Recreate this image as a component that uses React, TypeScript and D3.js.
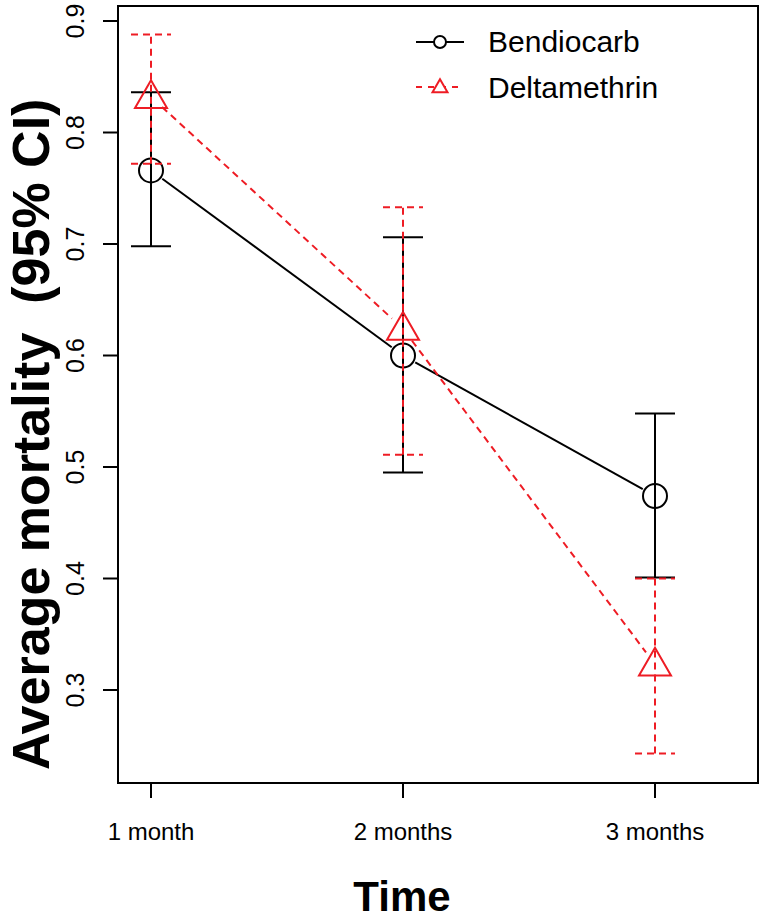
import React from 'react';
import * as d3 from 'd3';

// data
const times = [1, 2, 3];
const timeLabels = ['1 month', '2 months', '3 months'];
const yTicks = [0.3, 0.4, 0.5, 0.6, 0.7, 0.8, 0.9];

const bendioMean = [0.766, 0.6, 0.474];
const bendioLow = [0.698, 0.495, 0.401];
const bendioHigh = [0.836, 0.706, 0.548];

const deltaMean = [0.832, 0.624, 0.323];
const deltaLow = [0.772, 0.511, 0.243];
const deltaHigh = [0.888, 0.733, 0.4];

const W = 766;
const H = 921;
const box = { left: 118, right: 758, top: 6, bottom: 783 };
const font = 'Arial, "Liberation Sans", Helvetica, sans-serif';

const x = d3.scaleLinear().domain([1, 3]).range([151, 655]);
const y = d3.scaleLinear().domain([0.3, 0.9]).range([690, 21]);

// R's type="b": segments stop short of the points
const gapSegments = (xs: number[], ys: number[], gap: number) => {
  const segs: [number, number, number, number][] = [];
  for (let i = 0; i < xs.length - 1; i++) {
    const x0 = x(xs[i]), y0 = y(ys[i]), x1 = x(xs[i + 1]), y1 = y(ys[i + 1]);
    const len = Math.hypot(x1 - x0, y1 - y0);
    const ux = (x1 - x0) / len, uy = (y1 - y0) / len;
    segs.push([x0 + ux * gap, y0 + uy * gap, x1 - ux * gap, y1 - uy * gap]);
  }
  return segs;
};

const triangle = (cx: number, cy: number, s: number) => {
  const h = s * 0.866;
  return `M${cx},${cy - h * 0.6}L${cx + s / 2},${cy + h * 0.4}L${cx - s / 2},${cy + h * 0.4}Z`;
};

const App = () => {
  const red = '#ee1c24';
  const dash = '7,5';
  const cap = 20;

  return (
    <svg width={W} height={H} style={{ position: 'absolute', left: 0, top: 0, background: '#fff' }} fontFamily={font}>
      <rect x={0} y={0} width={W} height={H} fill="#fff" />
      {/* plot box */}
      <rect x={box.left} y={box.top} width={box.right - box.left} height={box.bottom - box.top} fill="none" stroke="#000" strokeWidth={2} />

      {/* y axis */}
      <line x1={box.left} x2={box.left} y1={y(0.3)} y2={y(0.9)} stroke="#000" strokeWidth={2} />
      {yTicks.map((t) => (
        <g key={t}>
          <line x1={box.left - 15} x2={box.left} y1={y(t)} y2={y(t)} stroke="#000" strokeWidth={2} />
          <text transform={`translate(84,${y(t)}) rotate(-90)`} textAnchor="middle" fontSize={25}>
            {t.toFixed(1)}
          </text>
        </g>
      ))}

      {/* x axis */}
      {times.map((t, i) => (
        <g key={t}>
          <line x1={x(t)} x2={x(t)} y1={box.bottom} y2={box.bottom + 15} stroke="#000" strokeWidth={2} />
          <text x={x(t)} y={840} textAnchor="middle" fontSize={24}>
            {timeLabels[i]}
          </text>
        </g>
      ))}

      {/* axis titles */}
      <text x={402} y={911} textAnchor="middle" fontSize={42} fontWeight="bold">Time</text>
      <text transform="translate(49,770) rotate(-90)" textAnchor="start" fontSize={52} fontWeight="bold" style={{ whiteSpace: 'pre' }}>
        {'Average mortality  (95% CI)'}
      </text>

      {/* Bendiocarb */}
      {times.map((t, i) => (
        <g key={'b' + t} stroke="#000" strokeWidth={2}>
          <line x1={x(t)} x2={x(t)} y1={y(bendioLow[i])} y2={y(bendioHigh[i])} />
          <line x1={x(t) - cap} x2={x(t) + cap} y1={y(bendioLow[i])} y2={y(bendioLow[i])} />
          <line x1={x(t) - cap} x2={x(t) + cap} y1={y(bendioHigh[i])} y2={y(bendioHigh[i])} />
        </g>
      ))}
      {gapSegments(times, bendioMean, 14).map((s, i) => (
        <line key={'bs' + i} x1={s[0]} y1={s[1]} x2={s[2]} y2={s[3]} stroke="#000" strokeWidth={2} />
      ))}
      {times.map((t, i) => (
        <circle key={'bc' + t} cx={x(t)} cy={y(bendioMean[i])} r={12} fill="none" stroke="#000" strokeWidth={2} />
      ))}

      {/* Deltamethrin */}
      {times.map((t, i) => (
        <g key={'d' + t} stroke={red} strokeWidth={2} strokeDasharray={dash}>
          <line x1={x(t)} x2={x(t)} y1={y(deltaLow[i])} y2={y(deltaHigh[i])} />
          <line x1={x(t) - cap} x2={x(t) + cap} y1={y(deltaLow[i])} y2={y(deltaLow[i])} />
          <line x1={x(t) - cap} x2={x(t) + cap} y1={y(deltaHigh[i])} y2={y(deltaHigh[i])} />
        </g>
      ))}
      {gapSegments(times, deltaMean, 15).map((s, i) => (
        <line key={'ds' + i} x1={s[0]} y1={s[1]} x2={s[2]} y2={s[3]} stroke={red} strokeWidth={2} strokeDasharray={dash} />
      ))}
      {times.map((t, i) => (
        <path key={'dt' + t} d={triangle(x(t), y(deltaMean[i]), 32)} fill="none" stroke={red} strokeWidth={2} />
      ))}

      {/* legend */}
      <line x1={416} x2={464} y1={42} y2={42} stroke="#000" strokeWidth={2} />
      <circle cx={440} cy={42} r={6} fill="#fff" stroke="#000" strokeWidth={2} />
      <text x={488} y={52} fontSize={30}>Bendiocarb</text>
      <line x1={416} x2={464} y1={87} y2={87} stroke={red} strokeWidth={2} strokeDasharray="6,6" />
      <path d={triangle(440, 87, 15)} fill="#fff" stroke={red} strokeWidth={2} />
      <text x={488} y={98} fontSize={30}>Deltamethrin</text>
    </svg>
  );
};

export default App;
